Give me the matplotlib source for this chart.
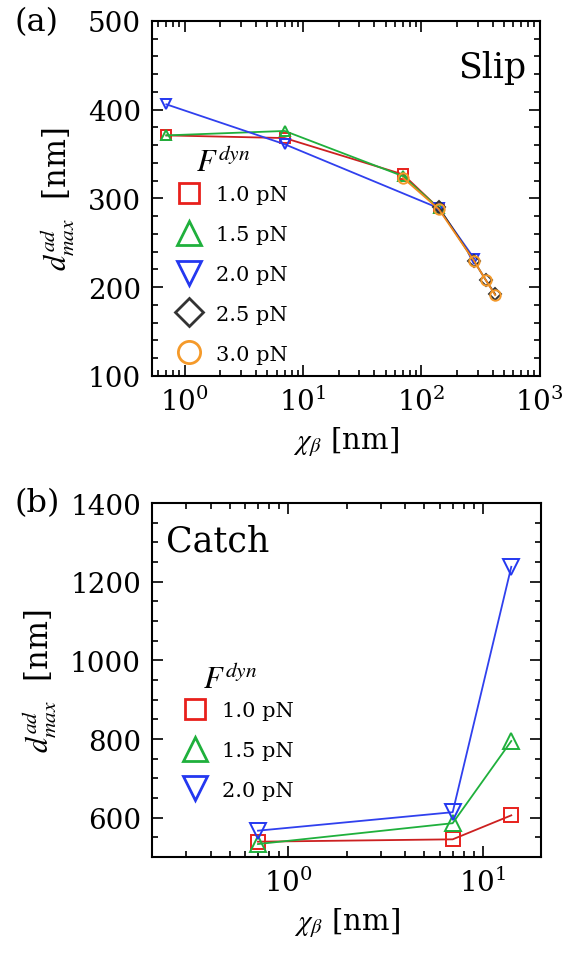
import matplotlib
matplotlib.use("Agg")
import matplotlib.pyplot as plt
from matplotlib.lines import Line2D
from matplotlib.ticker import MultipleLocator, LogLocator, NullFormatter

plt.rcParams['font.family'] = ['DejaVu Serif']
plt.rcParams['mathtext.fontset'] = 'stix'

# ---- Panel (a): Slip ----
slip_labels = ["1.0 pN", "1.5 pN", "2.0 pN", "2.5 pN", "3.0 pN"]
slip_x_10 = [0.7, 7, 70, 140]
slip_y_10 = [371, 368, 327, 289]
slip_x_15 = [0.7, 7, 70, 140]
slip_y_15 = [371, 376, 325, 289]
slip_x_20 = [0.7, 7, 140, 280]
slip_y_20 = [406, 361, 289, 232]
slip_x_25 = [140, 280, 350, 420]
slip_y_25 = [290, 229, 208, 192]
slip_x_30 = [70, 140, 280, 350, 420]
slip_y_30 = [323, 288, 229, 208, 191]

# ---- Panel (b): Catch ----
catch_labels = ["1.0 pN", "1.5 pN", "2.0 pN"]
catch_x = [0.7, 7, 14]
catch_y_10 = [539, 545, 606]
catch_y_15 = [533, 586, 795]
catch_y_20 = [567, 614, 1238]

colors = ['#e8201c', '#1fb03c', '#2438f0', '#333333', '#f59a2a']
line_colors = ['#cc2020', '#1fb03c', '#3040ee', '#333333', '#f08a20']
markers = ['s', '^', 'v', 'D', 'o']

fig = plt.figure(figsize=(5.76, 9.54), dpi=100)
ax1 = fig.add_axes([0.264, 0.605, 0.673, 0.372])
ax2 = fig.add_axes([0.264, 0.1006, 0.676, 0.371])

slip_data = [(slip_x_10, slip_y_10), (slip_x_15, slip_y_15), (slip_x_20, slip_y_20),
             (slip_x_25, slip_y_25), (slip_x_30, slip_y_30)]
msz_a = [7, 7.5, 7.5, 6.5, 7.5]
for i, (xs, ys) in enumerate(slip_data):
    ax1.plot(xs, ys, color=line_colors[i], lw=1.3, marker=markers[i], ms=msz_a[i],
             mfc='none', mec=colors[i], mew=1.4)

leg_ms_a = [15, 17, 17, 14, 16]
handles_a = [Line2D([], [], ls='none', marker=markers[i], ms=leg_ms_a[i], mfc='none',
                    mec=colors[i], mew=2.0) for i in range(5)]

ax1.set_xscale('log')
ax1.set_xlim(0.53, 1000)
ax1.set_ylim(100, 500)
ax1.yaxis.set_major_locator(MultipleLocator(100))
ax1.yaxis.set_minor_locator(MultipleLocator(20))
ax1.xaxis.set_major_locator(LogLocator(base=10, numticks=10))
ax1.xaxis.set_minor_locator(LogLocator(base=10, subs=range(2, 10), numticks=20))
ax1.xaxis.set_minor_formatter(NullFormatter())
ax1.text(0.965, 0.87, "Slip", transform=ax1.transAxes, ha='right', va='center', fontsize=25)
ax1.text(0.183, 0.601, r"$F^{dyn}$", transform=ax1.transAxes, ha='center', va='center', fontsize=22)
ax1.legend(handles_a, slip_labels, loc='upper left', bbox_to_anchor=(0.025, 0.578), frameon=False,
           fontsize=15, handlelength=1.2, handletextpad=0.7, labelspacing=1.0, borderpad=0.2)
ax1.set_xlabel(r"$\chi_{\beta}$ [nm]", fontsize=21, labelpad=6)
ax1.set_ylabel(r"$d^{ad}_{max}$  [nm]", fontsize=22, labelpad=8)
fig.text(0.025, 0.976, "(a)", fontsize=23, ha='left', va='center')

catch_ys = [catch_y_10, catch_y_15, catch_y_20]
msz_b = [10, 11, 11]
for i, ys in enumerate(catch_ys):
    ax2.plot(catch_x, ys, color=line_colors[i], lw=1.3, marker=markers[i], ms=msz_b[i],
             mfc='none', mec=colors[i], mew=1.4)

leg_ms_b = [15, 17, 17]
handles_b = [Line2D([], [], ls='none', marker=markers[i], ms=leg_ms_b[i], mfc='none',
                    mec=colors[i], mew=2.0) for i in range(3)]

ax2.set_xscale('log')
ax2.set_xlim(0.2, 20)
ax2.set_ylim(500, 1400)
ax2.yaxis.set_major_locator(MultipleLocator(200))
ax2.yaxis.set_minor_locator(MultipleLocator(50))
ax2.xaxis.set_major_locator(LogLocator(base=10, numticks=10))
ax2.xaxis.set_minor_locator(LogLocator(base=10, subs=range(2, 10), numticks=20))
ax2.xaxis.set_minor_formatter(NullFormatter())
ax2.text(0.035, 0.895, "Catch", transform=ax2.transAxes, ha='left', va='center', fontsize=25)
ax2.text(0.2, 0.501, r"$F^{dyn}$", transform=ax2.transAxes, ha='center', va='center', fontsize=22)
ax2.legend(handles_b, catch_labels, loc='upper left', bbox_to_anchor=(0.04, 0.482), frameon=False,
           fontsize=15, handlelength=1.2, handletextpad=0.7, labelspacing=1.0, borderpad=0.2)
ax2.set_xlabel(r"$\chi_{\beta}$ [nm]", fontsize=21, labelpad=6)
ax2.set_ylabel(r"$d^{ad}_{max}$  [nm]", fontsize=22, labelpad=8)
fig.text(0.025, 0.472, "(b)", fontsize=23, ha='left', va='center')

for ax in (ax1, ax2):
    ax.tick_params(which='both', direction='in', top=True, right=True, width=1.2)
    ax.tick_params(which='major', length=8, labelsize=20, pad=8)
    ax.tick_params(which='minor', length=4)
    for s in ax.spines.values():
        s.set_linewidth(1.5)

fig.savefig("out.png", dpi=100)
